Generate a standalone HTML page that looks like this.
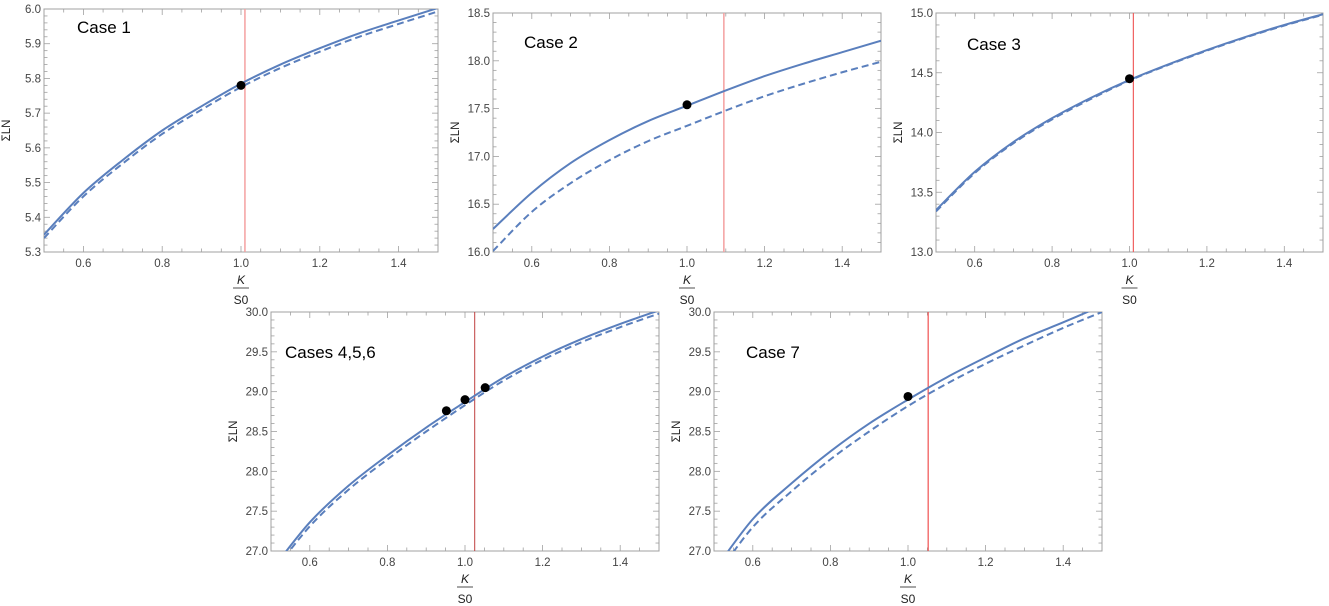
<!DOCTYPE html>
<html><head><meta charset="utf-8">
<style>
body{margin:0;background:#fff;}
svg{display:block;font-family:"Liberation Sans",sans-serif;}
</style></head>
<body>
<svg id="root" width="1329" height="606" viewBox="0 0 1329 606"></svg>
<script>
// ---- data ----
const p1X=[0.5,0.6,0.7,0.8,0.9,1.0,1.1,1.2,1.3,1.4,1.5];
const p1Solid=[5.35,5.47,5.565,5.65,5.72,5.785,5.84,5.887,5.93,5.967,6.003];
const p1Dash=[5.34,5.46,5.555,5.64,5.71,5.775,5.83,5.877,5.92,5.957,5.993];
const p1Dots=[[1.0,5.78]];
const p1Red=1.01;

const p2X=[0.5,0.6,0.7,0.8,0.9,1.0,1.1,1.2,1.3,1.4,1.5];
const p2Solid=[16.24,16.62,16.93,17.17,17.37,17.53,17.69,17.84,17.97,18.09,18.21];
const p2Dash=[16.01,16.42,16.72,16.96,17.16,17.32,17.48,17.63,17.76,17.88,17.99];
const p2Dots=[[1.0,17.54]];
const p2Red=1.095;

const p3X=[0.5,0.6,0.7,0.8,0.9,1.0,1.1,1.2,1.3,1.4,1.5];
const p3Solid=[13.35,13.67,13.92,14.12,14.29,14.44,14.57,14.69,14.80,14.90,14.99];
const p3Dash=[13.34,13.66,13.91,14.11,14.28,14.435,14.565,14.685,14.795,14.895,14.985];
const p3Dots=[[1.0,14.45]];
const p3Red=1.01;

const p4X=[0.5,0.6,0.7,0.8,0.9,1.0,1.1,1.2,1.3,1.4,1.5];
const p4Solid=[26.75,27.36,27.82,28.2,28.55,28.87,29.18,29.44,29.66,29.85,30.02];
const p4Dash=[26.7,27.31,27.77,28.15,28.5,28.83,29.14,29.4,29.62,29.81,29.98];
const p4Dots=[[0.952,28.76],[1.0,28.9],[1.052,29.05]];
const p4Red=1.025;

const p5X=[0.5,0.6,0.7,0.8,0.9,1.0,1.1,1.2,1.3,1.4,1.5];
const p5Solid=[26.75,27.4,27.85,28.25,28.6,28.9,29.18,29.43,29.67,29.87,30.08];
const p5Dash=[26.65,27.3,27.75,28.15,28.5,28.82,29.1,29.35,29.58,29.8,30.0];
const p5Dots=[[1.0,28.94]];
const p5Red=1.052;

const xTicks=[0.6,0.8,1.0,1.2,1.4];
const xTickLabels=["0.6","0.8","1.0","1.2","1.4"];

const NS="http://www.w3.org/2000/svg";
const root=document.getElementById('root');
function el(tag,attrs,parent){const e=document.createElementNS(NS,tag);for(const k in attrs)e.setAttribute(k,attrs[k]);(parent||root).appendChild(e);return e;}

function smoothPath(pts){
  let d="M"+pts[0][0]+","+pts[0][1];
  for(let i=0;i<pts.length-1;i++){
    const p0=pts[i-1]||pts[i],p1=pts[i],p2=pts[i+1],p3=pts[i+2]||p2;
    const c1=[p1[0]+(p2[0]-p0[0])/6,p1[1]+(p2[1]-p0[1])/6];
    const c2=[p2[0]-(p3[0]-p1[0])/6,p2[1]-(p3[1]-p1[1])/6];
    d+=" C"+c1+" "+c2+" "+p2;
  }
  return d;
}

function panel(o){
  const g=el('g',{});
  
  
  const {L,R,T,B,ymin,ymax,ymaj,ymin2,yfmt}=o;
  const sx=v=>L+(v-0.5)/(1.0)*(R-L);
  const sy=v=>B-(v-ymin)/(ymax-ymin)*(B-T);
  const clipId='clip-'+o.name;
  const defs=el('defs',{},g);
  const cp=el('clipPath',{id:clipId},defs);
  el('rect',{x:L,y:T,width:R-L,height:B-T},cp);
  // frame
  const fr=el('rect',{x:L,y:T,width:R-L,height:B-T,fill:'none',stroke:'#a0a0a0','stroke-width':1},g);
  
  
  // x ticks
  for(let i=0;i<=20;i++){
    const v=0.5+i*0.05, x=sx(v);
    const major=(i%4===2);
    const len=major?6:3.5;
    el('line',{x1:x,y1:B,x2:x,y2:B-len,stroke:'#a0a0a0','stroke-width':0.8},g);
    el('line',{x1:x,y1:T,x2:x,y2:T+len,stroke:'#a0a0a0','stroke-width':0.8},g);
  }
  xTicks.forEach((v,i)=>{
    const t=el('text',{x:sx(v),y:B+15,'font-size':11.5,fill:'#444','text-anchor':'middle'},g);
    t.textContent=xTickLabels[i];
    
    
  });
  // y ticks
  const nMin=Math.round((ymax-ymin)/ymin2);
  for(let i=0;i<=nMin;i++){
    const v=ymin+i*ymin2, y=sy(v);
    const major=Math.abs((v-ymin)/ymaj-Math.round((v-ymin)/ymaj))<1e-6;
    const len=major?6:3.5;
    el('line',{x1:L,y1:y,x2:L+len,y2:y,stroke:'#a0a0a0','stroke-width':0.8},g);
    el('line',{x1:R,y1:y,x2:R-len,y2:y,stroke:'#a0a0a0','stroke-width':0.8},g);
    if(major){
      const t=el('text',{x:L-3,y:y+4,'font-size':11.5,fill:'#444','text-anchor':'end'},g);
      t.textContent=v.toFixed(1);
      
      
    }
  }
  // y label
  const yl=el('text',{x:0,y:0,'font-size':11.5,fill:'#222','text-anchor':'middle',transform:`translate(${L-34},${(T+B)/2}) rotate(-90)`},g);
  yl.textContent='ΣLN';
  
  
  // x label
  const cx=(L+R)/2;
  const xg=el('g',{},g);
  
  
  const k=el('text',{x:cx,y:B+32,'font-size':12,'font-style':'italic',fill:'#222','text-anchor':'middle'},xg);k.textContent='K';
  el('line',{x1:cx-8,y1:B+36,x2:cx+8,y2:B+36,stroke:'#222','stroke-width':0.8},xg);
  const s0=el('text',{x:cx,y:B+52,'font-size':12,fill:'#222','text-anchor':'middle'},xg);s0.textContent='S0';
  // curves
  const cg=el('g',{'clip-path':`url(#${clipId})`},g);
  const red=el('line',{x1:sx(o.red),y1:T,x2:sx(o.red),y2:B,stroke:o.redColor,'stroke-width':o.redW},cg);
  
  
  const ds=el('path',{d:smoothPath(o.xs.map((x,i)=>[sx(x),sy(o.dash[i])])),fill:'none',stroke:'#5a7fbd','stroke-width':2,'stroke-dasharray':'7,4'},cg);
  
  
  const so=el('path',{d:smoothPath(o.xs.map((x,i)=>[sx(x),sy(o.solid[i])])),fill:'none',stroke:'#5a7fbd','stroke-width':2},cg);
  
  
  o.dots.forEach(p=>{
    const c=el('circle',{cx:sx(p[0]),cy:sy(p[1]),r:4.5,fill:'#000'},g);
    
    
  });
  const tt=el('text',{x:o.tx,y:o.ty,'font-size':17,fill:'#000'},g);
  tt.textContent=o.title;
  
  
}

panel({name:'panel-case-1',L:44,R:438,T:9,B:252,ymin:5.3,ymax:6.0,ymaj:0.1,ymin2:0.02,xs:p1X,solid:p1Solid,dash:p1Dash,dots:p1Dots,red:p1Red,redColor:'#f4a0a0',redW:1.5,title:'Case 1',tx:77,ty:33});
panel({name:'panel-case-2',L:493,R:881,T:13,B:252,ymin:16.0,ymax:18.5,ymaj:0.5,ymin2:0.1,xs:p2X,solid:p2Solid,dash:p2Dash,dots:p2Dots,red:p2Red,redColor:'#f4a0a0',redW:1.5,title:'Case 2',tx:524,ty:48});
panel({name:'panel-case-3',L:936,R:1323,T:13,B:252,ymin:13.0,ymax:15.0,ymaj:0.5,ymin2:0.1,xs:p3X,solid:p3Solid,dash:p3Dash,dots:p3Dots,red:p3Red,redColor:'#f06060',redW:1.2,title:'Case 3',tx:967,ty:50});
panel({name:'panel-cases-4-5-6',L:271,R:659,T:312,B:551,ymin:27.0,ymax:30.0,ymaj:0.5,ymin2:0.1,xs:p4X,solid:p4Solid,dash:p4Dash,dots:p4Dots,red:p4Red,redColor:'#c04040',redW:1,title:'Cases 4,5,6',tx:285,ty:358});
panel({name:'panel-case-7',L:714,R:1102,T:312,B:551,ymin:27.0,ymax:30.0,ymaj:0.5,ymin2:0.1,xs:p5X,solid:p5Solid,dash:p5Dash,dots:p5Dots,red:p5Red,redColor:'#f05050',redW:1.2,title:'Case 7',tx:746,ty:358});
</script>
</body></html>
